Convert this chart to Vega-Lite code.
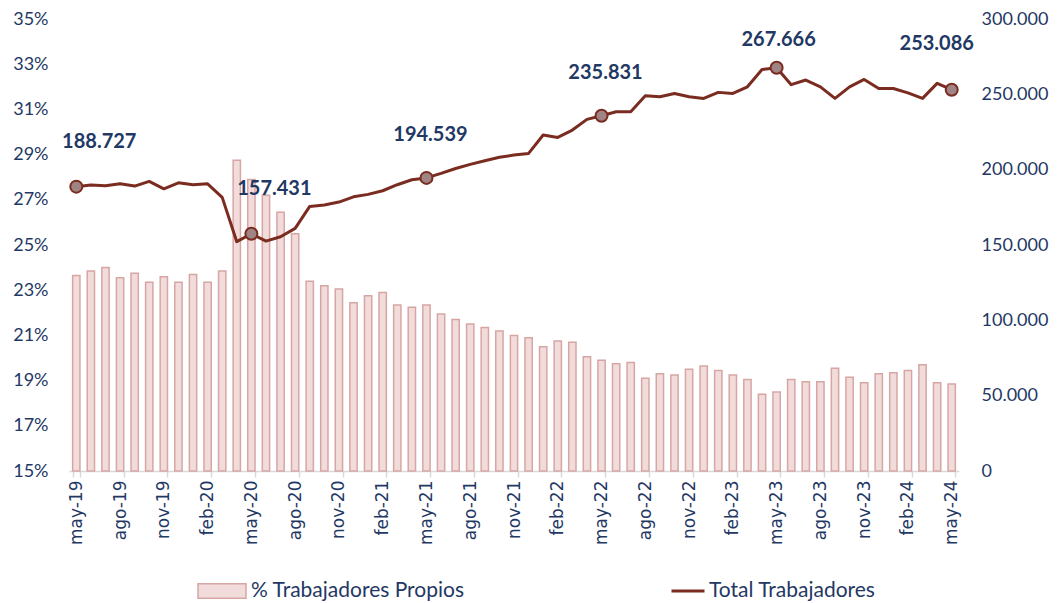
{
  "$schema": "https://vega.github.io/schema/vega-lite/v6.json",
  "width": 890,
  "height": 452,
  "autosize": {"type": "none"},
  "padding": {"left": 69, "top": 19, "right": 99, "bottom": 132},
  "background": "white",
  "config": {
    "view": {"stroke": null},
    "font": "Lato",
    "axis": {"grid": false, "labelColor": "#1F3864", "titleColor": "#1F3864"},
    "legend": {"labelFont": "Lato", "labelFontSize": 21, "labelColor": "#1F3864", "title": null, "labelLimit": 400}
  },
  "datasets": {
    "serie": [
      {"mes": "may-19", "pct": 23.65, "total": 188727, "etiqueta": "188.727"},
      {"mes": "jun-19", "pct": 23.85, "total": 189800, "etiqueta": ""},
      {"mes": "jul-19", "pct": 24.0, "total": 189300, "etiqueta": ""},
      {"mes": "ago-19", "pct": 23.55, "total": 190600, "etiqueta": ""},
      {"mes": "sep-19", "pct": 23.75, "total": 189100, "etiqueta": ""},
      {"mes": "oct-19", "pct": 23.35, "total": 192200, "etiqueta": ""},
      {"mes": "nov-19", "pct": 23.6, "total": 187300, "etiqueta": ""},
      {"mes": "dic-19", "pct": 23.35, "total": 191300, "etiqueta": ""},
      {"mes": "ene-20", "pct": 23.7, "total": 190000, "etiqueta": ""},
      {"mes": "feb-20", "pct": 23.35, "total": 190600, "etiqueta": ""},
      {"mes": "mar-20", "pct": 23.85, "total": 181600, "etiqueta": ""},
      {"mes": "abr-20", "pct": 28.75, "total": 152200, "etiqueta": ""},
      {"mes": "may-20", "pct": 27.9, "total": 157431, "etiqueta": "157.431"},
      {"mes": "jun-20", "pct": 27.2, "total": 152600, "etiqueta": ""},
      {"mes": "jul-20", "pct": 26.45, "total": 155500, "etiqueta": ""},
      {"mes": "ago-20", "pct": 25.5, "total": 161000, "etiqueta": ""},
      {"mes": "sep-20", "pct": 23.4, "total": 175600, "etiqueta": ""},
      {"mes": "oct-20", "pct": 23.2, "total": 176500, "etiqueta": ""},
      {"mes": "nov-20", "pct": 23.05, "total": 178500, "etiqueta": ""},
      {"mes": "dic-20", "pct": 22.45, "total": 182000, "etiqueta": ""},
      {"mes": "ene-21", "pct": 22.75, "total": 183600, "etiqueta": ""},
      {"mes": "feb-21", "pct": 22.9, "total": 186000, "etiqueta": ""},
      {"mes": "mar-21", "pct": 22.35, "total": 190000, "etiqueta": ""},
      {"mes": "abr-21", "pct": 22.25, "total": 193300, "etiqueta": ""},
      {"mes": "may-21", "pct": 22.35, "total": 194539, "etiqueta": "194.539"},
      {"mes": "jun-21", "pct": 21.95, "total": 197500, "etiqueta": ""},
      {"mes": "jul-21", "pct": 21.7, "total": 200800, "etiqueta": ""},
      {"mes": "ago-21", "pct": 21.5, "total": 203500, "etiqueta": ""},
      {"mes": "sep-21", "pct": 21.35, "total": 205900, "etiqueta": ""},
      {"mes": "oct-21", "pct": 21.2, "total": 208200, "etiqueta": ""},
      {"mes": "nov-21", "pct": 21.0, "total": 209700, "etiqueta": ""},
      {"mes": "dic-21", "pct": 20.9, "total": 210800, "etiqueta": ""},
      {"mes": "ene-22", "pct": 20.5, "total": 223000, "etiqueta": ""},
      {"mes": "feb-22", "pct": 20.75, "total": 221400, "etiqueta": ""},
      {"mes": "mar-22", "pct": 20.7, "total": 226300, "etiqueta": ""},
      {"mes": "abr-22", "pct": 20.05, "total": 233400, "etiqueta": ""},
      {"mes": "may-22", "pct": 19.9, "total": 235831, "etiqueta": "235.831"},
      {"mes": "jun-22", "pct": 19.75, "total": 238400, "etiqueta": ""},
      {"mes": "jul-22", "pct": 19.8, "total": 238400, "etiqueta": ""},
      {"mes": "ago-22", "pct": 19.1, "total": 249000, "etiqueta": ""},
      {"mes": "sep-22", "pct": 19.3, "total": 248400, "etiqueta": ""},
      {"mes": "oct-22", "pct": 19.25, "total": 250600, "etiqueta": ""},
      {"mes": "nov-22", "pct": 19.5, "total": 248400, "etiqueta": ""},
      {"mes": "dic-22", "pct": 19.65, "total": 247300, "etiqueta": ""},
      {"mes": "ene-23", "pct": 19.45, "total": 251300, "etiqueta": ""},
      {"mes": "feb-23", "pct": 19.25, "total": 250600, "etiqueta": ""},
      {"mes": "mar-23", "pct": 19.05, "total": 255000, "etiqueta": ""},
      {"mes": "abr-23", "pct": 18.4, "total": 266500, "etiqueta": ""},
      {"mes": "may-23", "pct": 18.5, "total": 267666, "etiqueta": "267.666"},
      {"mes": "jun-23", "pct": 19.05, "total": 256400, "etiqueta": ""},
      {"mes": "jul-23", "pct": 18.95, "total": 259500, "etiqueta": ""},
      {"mes": "ago-23", "pct": 18.95, "total": 255000, "etiqueta": ""},
      {"mes": "sep-23", "pct": 19.55, "total": 247300, "etiqueta": ""},
      {"mes": "oct-23", "pct": 19.15, "total": 255000, "etiqueta": ""},
      {"mes": "nov-23", "pct": 18.9, "total": 259900, "etiqueta": ""},
      {"mes": "dic-23", "pct": 19.3, "total": 253900, "etiqueta": ""},
      {"mes": "ene-24", "pct": 19.35, "total": 253900, "etiqueta": ""},
      {"mes": "feb-24", "pct": 19.45, "total": 251000, "etiqueta": ""},
      {"mes": "mar-24", "pct": 19.7, "total": 247300, "etiqueta": ""},
      {"mes": "abr-24", "pct": 18.9, "total": 257300, "etiqueta": ""},
      {"mes": "may-24", "pct": 18.85, "total": 253086, "etiqueta": "253.086"}
    ]
  },
  "data": {"name": "serie"},
  "encoding": {
    "x": {
      "field": "mes",
      "type": "ordinal",
      "sort": null,
      "scale": {
        "paddingInner": 0.5,
        "paddingOuter": 0.25,
        "domain": ["may-19","jun-19","jul-19","ago-19","sep-19","oct-19","nov-19","dic-19","ene-20","feb-20","mar-20","abr-20","may-20","jun-20","jul-20","ago-20","sep-20","oct-20","nov-20","dic-20","ene-21","feb-21","mar-21","abr-21","may-21","jun-21","jul-21","ago-21","sep-21","oct-21","nov-21","dic-21","ene-22","feb-22","mar-22","abr-22","may-22","jun-22","jul-22","ago-22","sep-22","oct-22","nov-22","dic-22","ene-23","feb-23","mar-23","abr-23","may-23","jun-23","jul-23","ago-23","sep-23","oct-23","nov-23","dic-23","ene-24","feb-24","mar-24","abr-24","may-24"]
      },
      "axis": {
        "title": null,
        "values": ["may-19","ago-19","nov-19","feb-20","may-20","ago-20","nov-20","feb-21","may-21","ago-21","nov-21","feb-22","may-22","ago-22","nov-22","feb-23","may-23","ago-23","nov-23","feb-24","may-24"],
        "labelAngle": -90,
        "labelFont": "DejaVu Sans",
        "labelFontSize": 17,
        "labelColor": "#1F3864",
        "labelPadding": 3,
        "tickBand": "extent",
        "tickSize": 6,
        "tickColor": "#D9D9D9",
        "tickWidth": 1.5,
        "domainColor": "#D9D9D9",
        "domainWidth": 1.5
      }
    }
  },
  "layer": [
    {
      "mark": {"type": "bar", "stroke": "#D6A6A4", "strokeWidth": 1.5},
      "encoding": {
        "y": {
          "field": "pct",
          "type": "quantitative",
          "scale": {"domain": [15, 35], "zero": false, "nice": false},
          "axis": {
            "title": null,
            "orient": "left",
            "values": [15, 17, 19, 21, 23, 25, 27, 29, 31, 33, 35],
            "labelExpr": "datum.value + '%'",
            "labelFont": "Lato",
            "labelFontSize": 18,
            "labelPadding": 21,
            "ticks": false,
            "domain": false
          }
        },
        "y2": {"datum": 15},
        "fill": {
          "datum": "% Trabajadores Propios",
          "type": "nominal",
          "scale": {"range": ["#F2DCDB"]},
          "legend": {
            "orient": "none",
            "legendX": 128,
            "legendY": 547,
            "symbolType": "M-1,-0.3H1V0.3H-1Z",
            "symbolSize": 2304,
            "symbolStrokeColor": "#D6A6A4",
            "symbolStrokeWidth": 1.5,
            "labelOffset": 4
          }
        }
      }
    },
    {
      "encoding": {
        "y": {
          "field": "total",
          "type": "quantitative",
          "scale": {"domain": [0, 300000], "nice": false},
          "axis": {
            "title": null,
            "orient": "right",
            "values": [0, 50000, 100000, 150000, 200000, 250000, 300000],
            "labelExpr": "replace(format(datum.value, ',d'), ',', '.')",
            "labelFont": "Lato",
            "labelFontSize": 18,
            "labelPadding": 22,
            "ticks": false,
            "domain": false
          }
        }
      },
      "layer": [
        {
          "mark": {"type": "line", "strokeWidth": 3, "strokeJoin": "round"},
          "encoding": {
            "stroke": {
              "datum": "Total Trabajadores",
              "type": "nominal",
              "scale": {"range": ["#7B2C20"]},
              "legend": {
                "orient": "none",
                "legendX": 601,
                "legendY": 554,
                "symbolType": "stroke",
                "symbolSize": 1089,
                "symbolStrokeWidth": 3,
                "labelOffset": 3
              }
            }
          }
        },
        {
          "transform": [{"filter": "datum.etiqueta != ''"}],
          "mark": {"type": "point", "filled": true, "fill": "#A08484", "stroke": "#7B2C20", "strokeWidth": 2, "size": 144, "opacity": 1},
          "encoding": {}
        },
        {
          "transform": [{"filter": "datum.mes == 'may-19' || datum.mes == 'may-20'"}],
          "mark": {"type": "text", "font": "Lato", "fontWeight": "bold", "fontSize": 20, "color": "#1F3864", "dx": 23, "dy": -45},
          "encoding": {"text": {"field": "etiqueta"}}
        },
        {
          "transform": [{"filter": "datum.mes == 'may-21' || datum.mes == 'may-22'"}],
          "mark": {"type": "text", "font": "Lato", "fontWeight": "bold", "fontSize": 20, "color": "#1F3864", "dx": 4, "dy": -43},
          "encoding": {"text": {"field": "etiqueta"}}
        },
        {
          "transform": [{"filter": "datum.mes == 'may-23'"}],
          "mark": {"type": "text", "font": "Lato", "fontWeight": "bold", "fontSize": 20, "color": "#1F3864", "dx": 2, "dy": -28},
          "encoding": {"text": {"field": "etiqueta"}}
        },
        {
          "transform": [{"filter": "datum.mes == 'may-24'"}],
          "mark": {"type": "text", "font": "Lato", "fontWeight": "bold", "fontSize": 20, "color": "#1F3864", "dx": -15, "dy": -46},
          "encoding": {"text": {"field": "etiqueta"}}
        }
      ]
    }
  ],
  "resolve": {"scale": {"y": "independent"}}
}
